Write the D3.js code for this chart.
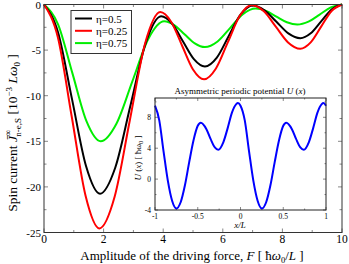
<!DOCTYPE html>
<html lang="en">
<head>
<meta charset="UTF-8">
<script src="https://d3js.org/d3.v7.min.js"></script>
<style>
  body { margin: 0; background: #fff; }
  text { font-family: "Liberation Serif", "DejaVu Serif", serif; }
</style>
</head>
<body>
<svg id="chart" width="349" height="264"></svg>
<script>
// main curves: spin current vs driving force amplitude F
var forceB = [0, 0.47, 0.94, 1.41, 1.88, 2.39, 2.905, 3.42, 3.93, 4.30, 4.665, 5.03, 5.4, 5.8, 6.2, 6.6, 7.0, 7.4, 7.8, 8.2, 8.6, 8.95, 9.3, 9.65, 10];
var eta05  = [0, -3.04, -10.38, -17.71, -20.75, -17.90, -11.03, -4.15, -1.3, -2.11, -4.05, -5.99, -6.8, -5.82, -3.45, -1.08, -0.1, -0.63, -1.9, -3.17, -3.7, -3.16, -1.85, -0.54, 0];
var forceR = [0, 0.465, 0.93, 1.395, 1.86, 2.37, 2.88, 3.39, 3.9, 4.27, 4.635, 5.0, 5.37, 5.77, 6.17, 6.57, 6.97, 7.38, 7.785, 8.19, 8.6, 8.95, 9.3, 9.65, 10];
var eta025 = [0, -3.59, -12.28, -20.96, -24.55, -21.08, -12.69, -4.30, -0.83, -1.91, -4.52, -7.12, -8.2, -7.01, -4.13, -1.24, -0.05, -0.75, -2.46, -4.16, -4.86, -4.15, -2.43, -0.71, 0];
var forceG = [0, 0.475, 0.95, 1.425, 1.9, 2.43, 2.965, 3.5, 4.03, 4.37, 4.715, 5.06, 5.4, 5.825, 6.25, 6.675, 7.1, 7.45, 7.8, 8.15, 8.5, 8.875, 9.25, 9.625, 10];
var eta075 = [0, -2.20, -7.5, -12.80, -15.0, -13.07, -8.43, -3.78, -1.85, -2.26, -3.26, -4.26, -4.67, -4.05, -2.56, -1.07, -0.45, -0.71, -1.33, -1.94, -2.2, -1.88, -1.1, -0.32, 0];

var seriesNames = ["\u03b7=0.5", "\u03b7=0.25", "\u03b7=0.75"];
var xTicks = [0, 2, 4, 6, 8, 10];
var yTicks = [0, -5, -10, -15, -20, -25];

// inset: asymmetric periodic potential U(x)
var potX = [-1, -0.95, -0.9, -0.85, -0.8, -0.75, -0.7, -0.65, -0.6, -0.55, -0.5, -0.465, -0.4, -0.35, -0.3, -0.26, -0.2, -0.15, -0.1, -0.05, -0.03,
            0, 0.05, 0.1, 0.15, 0.2, 0.25, 0.3, 0.35, 0.4, 0.45, 0.5, 0.535, 0.6, 0.65, 0.7, 0.74, 0.8, 0.85, 0.9, 0.95, 0.97, 1];
var potU = [9.5, 7.6, 3.6, -0.2, -2.8, -3.8, -3.0, -0.8, 2.2, 5.0, 6.9, 7.3, 6.5, 5.2, 4.1, 3.8, 4.8, 6.6, 8.6, 9.7, 9.85,
            9.5, 7.6, 3.6, -0.2, -2.8, -3.8, -3.0, -0.8, 2.2, 5.0, 6.9, 7.3, 6.5, 5.2, 4.1, 3.8, 4.8, 6.6, 8.6, 9.7, 9.85, 9.5];
var insetXTicks = [-1, -0.5, 0, 0.5, 1];
var insetYTicks = [-4, 0, 4, 8];

var svg = d3.select("#chart");

var x = d3.scaleLinear().domain([0, 10]).range([44, 342]);
var y = d3.scaleLinear().domain([0, -25]).range([4.5, 232.5]);

// minor / major ticks (inside, grey)
var tickCol = "#888";
var g = svg.append("g");
d3.range(0, 11, 1).forEach(function (t) {
    var len = (t % 2 === 0) ? 4 : 2.5;
    g.append("line").attr("x1", x(t)).attr("x2", x(t)).attr("y1", y(-25)).attr("y2", y(-25) - len).attr("stroke", tickCol);
    g.append("line").attr("x1", x(t)).attr("x2", x(t)).attr("y1", y(0)).attr("y2", y(0) + len).attr("stroke", tickCol);
});
d3.range(0, -25.1, -2.5).forEach(function (t) {
    var len = (t % 5 === 0) ? 4 : 2.5;
    g.append("line").attr("x1", x(0)).attr("x2", x(0) + len).attr("y1", y(t)).attr("y2", y(t)).attr("stroke", tickCol);
    g.append("line").attr("x1", x(10)).attr("x2", x(10) - len).attr("y1", y(t)).attr("y2", y(t)).attr("stroke", tickCol);
});

// curves
var line = d3.line().curve(d3.curveMonotoneX);
function draw(fs, js, col) {
    svg.append("path")
        .attr("d", line(fs.map(function (f, i) { return [x(f), y(js[i])]; })))
        .attr("fill", "none")
        .attr("stroke", col)
        .attr("stroke-width", 2);
}
draw(forceG, eta075, "#00ee00");
draw(forceB, eta05, "#000");
draw(forceR, eta025, "#ff0000");

// frame
svg.append("rect")
    .attr("x", x(0)).attr("y", y(0))
    .attr("width", x(10) - x(0)).attr("height", y(-25) - y(0))
    .attr("fill", "none").attr("stroke", "#333").attr("stroke-width", 1);

// tick labels
svg.selectAll(".xl").data(xTicks).enter().append("text")
    .attr("x", function (d) { return x(d); })
    .attr("y", 243)
    .attr("text-anchor", "middle")
    .attr("font-size", 11.5)
    .text(function (d) { return d; });
svg.selectAll(".yl").data(yTicks).enter().append("text")
    .attr("x", 41)
    .attr("y", function (d) { return y(d) + 4; })
    .attr("text-anchor", "end")
    .attr("font-size", 11)
    .text(function (d) { return d; });

// x title
var xt = svg.append("text").attr("x", 192).attr("y", 259.5).attr("text-anchor", "middle").attr("font-size", 13);
xt.append("tspan").text("Amplitude of the driving force, ");
xt.append("tspan").attr("font-style", "italic").text("F");
xt.append("tspan").text(" [ \u0127");
xt.append("tspan").attr("font-style", "italic").text("\u03c9");
xt.append("tspan").attr("font-size", 8.5).attr("dy", 3).text("0");
xt.append("tspan").attr("dy", -3).text("/");
xt.append("tspan").attr("font-style", "italic").text("L");
xt.append("tspan").text(" ]");

// y title
var yt = svg.append("text").attr("transform", "translate(17,133) rotate(-90)").attr("text-anchor", "middle").attr("font-size", 13.5);
yt.append("tspan").text("Spin current  ");
yt.append("tspan").attr("font-style", "italic").text("J\u0304");
yt.append("tspan").attr("font-size", 9).attr("dy", -6).text("\u221e");
yt.append("tspan").attr("font-size", 9).attr("dx", -7).attr("dy", 10).text("n-e,S");
yt.append("tspan").attr("dy", -4).text("  [10");
yt.append("tspan").attr("font-size", 9).attr("dy", -5).text("\u22123");
yt.append("tspan").attr("dy", 5).text(" ");
yt.append("tspan").attr("font-style", "italic").text("L\u03c9");
yt.append("tspan").attr("font-size", 9).attr("dy", 3).text("0");
yt.append("tspan").attr("dy", -3).text(" ]");

// legend
var legend = svg.append("g");
legend.append("rect").attr("x", 71).attr("y", 10.5).attr("width", 60.5).attr("height", 43)
    .attr("fill", "#fff").attr("stroke", "#333");
var legCols = ["#000", "#ff0000", "#00ee00"];
seriesNames.forEach(function (n, i) {
    var yy = 18.5 + i * 12.3;
    legend.append("line").attr("x1", 75).attr("x2", 92).attr("y1", yy).attr("y2", yy)
        .attr("stroke", legCols[i]).attr("stroke-width", 2);
    legend.append("text").attr("x", 96).attr("y", yy + 4).attr("font-size", 11).text(n);
});

// inset
var ix = d3.scaleLinear().domain([-1, 1]).range([155, 326]);
var iy = d3.scaleLinear().domain([-4, 10.5]).range([210, 98]);
var inset = svg.append("g");
inset.append("rect").attr("x", 155).attr("y", 98).attr("width", 171).attr("height", 112)
    .attr("fill", "#fff").attr("stroke", "none");
d3.range(-1, 1.01, 0.25).forEach(function (t) {
    var len = (Math.abs(t * 2 - Math.round(t * 2)) < 1e-6) ? 3 : 1.5;
    inset.append("line").attr("x1", ix(t)).attr("x2", ix(t)).attr("y1", 210).attr("y2", 210 - len).attr("stroke", tickCol);
    inset.append("line").attr("x1", ix(t)).attr("x2", ix(t)).attr("y1", 98).attr("y2", 98 + len).attr("stroke", tickCol);
});
d3.range(-4, 10.1, 2).forEach(function (t) {
    var len = (t % 4 === 0) ? 3 : 1.5;
    inset.append("line").attr("x1", 155).attr("x2", 155 + len).attr("y1", iy(t)).attr("y2", iy(t)).attr("stroke", tickCol);
    inset.append("line").attr("x1", 326).attr("x2", 326 - len).attr("y1", iy(t)).attr("y2", iy(t)).attr("stroke", tickCol);
});
inset.append("path")
    .attr("d", d3.line().curve(d3.curveMonotoneX)(potX.map(function (v, i) { return [ix(v), iy(potU[i])]; })))
    .attr("fill", "none").attr("stroke", "#0000ff").attr("stroke-width", 2);
inset.append("rect").attr("x", 155).attr("y", 98).attr("width", 171).attr("height", 112)
    .attr("fill", "none").attr("stroke", "#222");
inset.selectAll(".ixl").data(insetXTicks).enter().append("text")
    .attr("x", function (d) { return ix(d); }).attr("y", 219)
    .attr("text-anchor", "middle").attr("font-size", 7.5)
    .text(function (d) { return d; });
inset.selectAll(".iyl").data(insetYTicks).enter().append("text")
    .attr("x", 151).attr("y", function (d) { return iy(d) + 2.5; })
    .attr("text-anchor", "end").attr("font-size", 7.5)
    .text(function (d) { return d; });
inset.append("text").attr("x", 240).attr("y", 228).attr("text-anchor", "middle")
    .attr("font-size", 9).attr("font-style", "italic").text("x/L");
var it = inset.append("text").attr("x", 240).attr("y", 94).attr("text-anchor", "middle").attr("font-size", 9);
it.append("tspan").text("Asymmetric periodic potential ");
it.append("tspan").attr("font-style", "italic").text("U");
it.append("tspan").text(" (");
it.append("tspan").attr("font-style", "italic").text("x");
it.append("tspan").text(")");
var iyt = inset.append("text").attr("transform", "translate(141,158) rotate(-90)").attr("text-anchor", "middle").attr("font-size", 9);
iyt.append("tspan").attr("font-style", "italic").text("U");
iyt.append("tspan").text(" (");
iyt.append("tspan").attr("font-style", "italic").text("x");
iyt.append("tspan").text(")   [ \u0127\u03c9");
iyt.append("tspan").attr("font-size", 6.5).attr("dy", 2).text("0");
iyt.append("tspan").attr("dy", -2).text(" ]");
</script>
</body>
</html>
